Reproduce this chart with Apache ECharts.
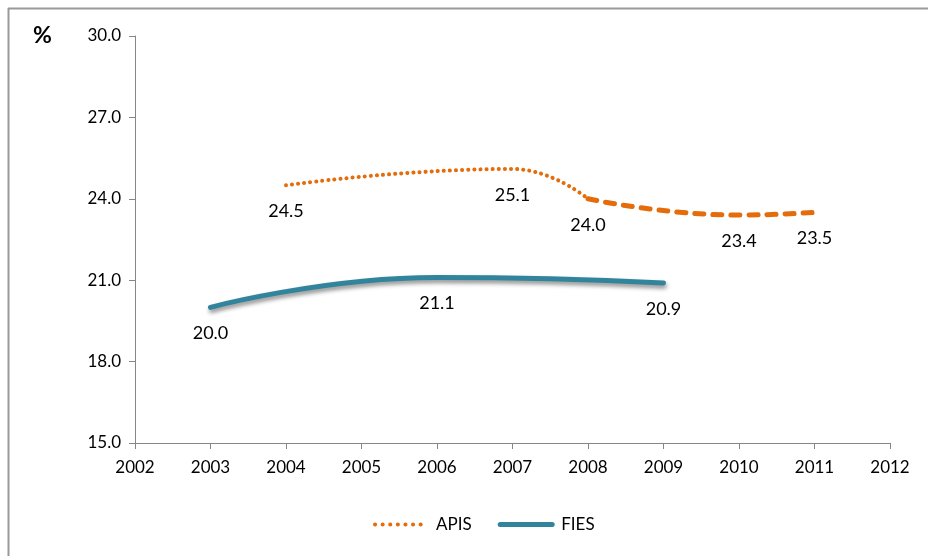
<!DOCTYPE html>
<html>
<head>
<meta charset="utf-8">
<script src="https://cdn.jsdelivr.net/npm/echarts@6/dist/echarts.min.js"></script>
<style>
  html,body{margin:0;padding:0;background:#fff;}
  #main{width:928px;height:556px;}
</style>
</head>
<body>
<div id="main"></div>
<script>
// 数据
let years = [2002, 2003, 2004, 2005, 2006, 2007, 2008, 2009, 2010, 2011, 2012];
let apisYears = [2004, 2007, 2008];          // 点线部分
let apisValues = [24.5, 25.1, 24.0];
let apisYears2 = [2008, 2010, 2011];         // 虚线部分
let apisValues2 = [24.0, 23.4, 23.5];
let fiesYears = [2003, 2006, 2009];
let fiesValues = [20.0, 21.1, 20.9];
let yTicks = [15, 18, 21, 24, 27, 30];

let font = 'Lato, "Open Sans", sans-serif';
let pairs = (xs, ys) => xs.map((x, i) => [x, ys[i]]);
let clear = 'rgba(0,0,0,0)';

let mychart = echarts.init(document.getElementById('main'));

let label = {
  show: true,
  position: 'bottom',
  distance: 16,
  color: '#000',
  fontSize: 18,
  fontFamily: font,
  formatter: p => p.value[1].toFixed(1)
};

let option = {
  animation: false,
  backgroundColor: '#fff',
  graphic: [
    { type: 'line', shape: { x1: 8, y1: 8.5, x2: 928, y2: 8.5 }, style: { stroke: '#999', lineWidth: 2 } },
    { type: 'line', shape: { x1: 8.5, y1: 8, x2: 8.5, y2: 556 }, style: { stroke: '#999', lineWidth: 2 } },
    { type: 'text', left: 33, top: 24, style: { text: '%', fontSize: 23, fontWeight: 'bold', fontFamily: font, fill: '#000' } }
  ],
  grid: { left: 135, right: 38, top: 36, bottom: 113 },
  legend: {
    data: [
      { name: 'APIS', lineStyle: { color: '#E46C0A', width: 4, type: [0.1, 7.5], cap: 'round' } },
      { name: 'FIES', lineStyle: { color: '#31849B', width: 5, type: 'solid', cap: 'round' } }
    ],
    bottom: 18,
    left: 368,
    itemWidth: 52,
    itemHeight: 6,
    itemGap: 26,
    itemStyle: { opacity: 0 },
    textStyle: { fontSize: 17, fontFamily: font, color: '#000', padding: [0, 0, 0, 4] }
  },
  xAxis: {
    type: 'value',
    min: years[0],
    max: years[years.length - 1],
    interval: 1,
    axisLine: { lineStyle: { color: '#868686' } },
    axisTick: { show: true, length: 6, lineStyle: { color: '#868686' } },
    axisLabel: { color: '#000', fontSize: 17, fontFamily: font, margin: 16, formatter: v => String(v) },
    splitLine: { show: false }
  },
  yAxis: {
    type: 'value',
    min: yTicks[0],
    max: yTicks[yTicks.length - 1],
    interval: 3,
    axisLine: { show: true, lineStyle: { color: '#868686' } },
    axisTick: { show: true, length: 6, lineStyle: { color: '#868686' } },
    axisLabel: { color: '#000', fontSize: 17, fontFamily: font, margin: 14, formatter: v => v.toFixed(1) },
    splitLine: { show: false }
  },
  series: [
    {
      name: 'APIS',
      type: 'line',
      smooth: 0.5,
      symbol: 'circle',
      symbolSize: 2,
      showSymbol: true,
      data: pairs(apisYears, apisValues),
      lineStyle: { color: '#E46C0A', width: 4, type: [0.1, 6], cap: 'round' },
      itemStyle: { color: clear },
      label: label
    },
    {
      name: 'APIS2',
      type: 'line',
      smooth: 0.5,
      symbol: 'circle',
      symbolSize: 2,
      showSymbol: true,
      data: pairs(apisYears2, apisValues2),
      lineStyle: { color: '#E46C0A', width: 5, type: [9, 9], cap: 'round' },
      itemStyle: { color: clear },
      label: Object.assign({}, label, { formatter: p => p.dataIndex === 0 ? '' : p.value[1].toFixed(1) })
    },
    {
      name: 'FIES',
      type: 'line',
      smooth: 0.5,
      symbol: 'circle',
      symbolSize: 2,
      showSymbol: true,
      data: pairs(fiesYears, fiesValues),
      lineStyle: {
        color: '#31849B', width: 5, cap: 'round',
        shadowColor: 'rgba(0,0,0,0.45)', shadowBlur: 4, shadowOffsetX: 1, shadowOffsetY: 3
      },
      itemStyle: { color: clear },
      label: label
    }
  ]
};

mychart.setOption(option);
</script>
</body>
</html>
